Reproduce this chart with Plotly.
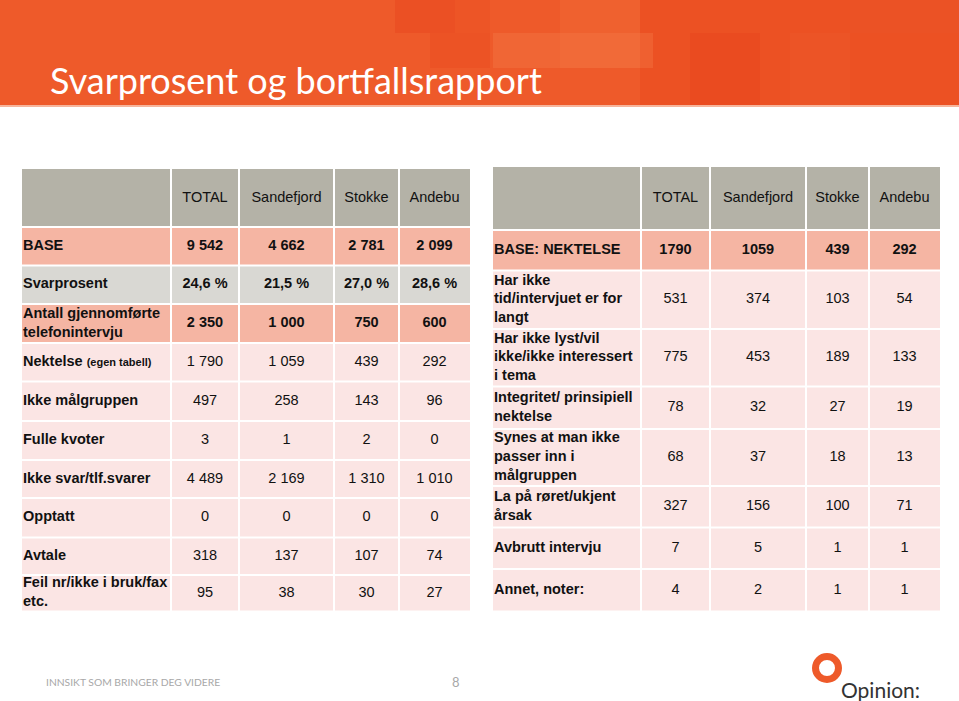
import plotly.graph_objects as go

# ---------------- data ----------------
left_columns = ["TOTAL", "Sandefjord", "Stokke", "Andebu"]
left_labels = [
    "BASE",
    "Svarprosent",
    "Antall gjennomførte<br>telefonintervju",
    "Nektelse <span style='font-size:11px'>(egen tabell)</span>",
    "Ikke målgruppen",
    "Fulle kvoter",
    "Ikke svar/tlf.svarer",
    "Opptatt",
    "Avtale",
    "Feil nr/ikke i bruk/fax<br>etc.",
]
left_total = [9542, 24.6, 2350, 1790, 497, 3, 4489, 0, 318, 95]
left_sandefjord = [4662, 21.5, 1000, 1059, 258, 1, 2169, 0, 137, 38]
left_stokke = [2781, 27.0, 750, 439, 143, 2, 1310, 0, 107, 30]
left_andebu = [2099, 28.6, 600, 292, 96, 0, 1010, 0, 74, 27]

right_columns = ["TOTAL", "Sandefjord", "Stokke", "Andebu"]
right_labels = [
    "BASE: NEKTELSE",
    "Har ikke<br>tid/intervjuet er for<br>langt",
    "Har ikke lyst/vil<br>ikke/ikke interessert<br>i tema",
    "Integritet/ prinsipiell<br>nektelse",
    "Synes at man ikke<br>passer inn i<br>målgruppen",
    "La på røret/ukjent<br>årsak",
    "Avbrutt intervju",
    "Annet, noter:",
]
right_total = [1790, 531, 775, 78, 68, 327, 7, 4]
right_sandefjord = [1059, 374, 453, 32, 37, 156, 5, 2]
right_stokke = [439, 103, 189, 27, 18, 100, 1, 1]
right_andebu = [292, 54, 133, 19, 13, 71, 1, 1]

title_text = "Svarprosent og bortfallsrapport"
footer_text = "INNSIKT SOM BRINGER DEG VIDERE"
page_number = "8"
logo_text = "Opinion:"

# ---------------- layout geometry / styles ----------------
W, H = 959, 701
FONT = "Arial, Liberation Sans, sans-serif"
FS = 14.5
HEADER_GREY = "#b4b2a7"
SALMON = "#f5b5a3"
LIGHT_GREY = "#d9d8d3"
PINK = "#fbe5e4"
ORANGE = "#ee5a2a"

left_xedges = [22, 171, 239, 334, 399, 470]
left_yedges = [169, 227, 265.5, 304, 343, 381.5, 421, 460, 498, 537.5, 575, 611.5]
left_fills = [SALMON, LIGHT_GREY, SALMON] + [PINK] * 7
left_bold_rows = {0, 1, 2}

right_xedges = [493, 641, 710, 806, 869, 940]
right_yedges = [167, 230, 270.5, 329, 386.5, 429, 486, 527.5, 569, 611.5]
right_fills = [SALMON] + [PINK] * 7
right_bold_rows = {0}

GAP = 1.0


def fmt_left(v, row):
    if row == 1:
        return f"{v:.1f} %".replace(".", ",")
    return f"{int(v):,}".replace(",", " ")


def fmt_right(v, row):
    return str(int(v))


fig = go.Figure()
shapes = []
annotations = []

# ---------------- banner ----------------
shapes.append(dict(type="rect", x0=0, x1=W, y0=0, y1=105, fillcolor=ORANGE,
                   line=dict(width=0), layer="below"))
banner_blocks = [
    (640, 959, 0, 105, "#e9461b", 0.45),
    (395, 455, 0, 33, "#e6401a", 0.35),
    (455, 490, 0, 33, "#ea4b1f", 0.3),
    (493, 653, 33, 68, "#f6844f", 0.3),
    (560, 640, 0, 68, "#f47a45", 0.22),
    (430, 490, 33, 68, "#e9461c", 0.3),
    (690, 760, 33, 105, "#e43d16", 0.25),
    (790, 850, 33, 105, "#f06430", 0.2),
    (850, 959, 0, 33, "#ec5a2c", 0.2),
]
for x0, x1, y0, y1, c, op in banner_blocks:
    shapes.append(dict(type="rect", x0=x0, x1=x1, y0=y0, y1=y1, fillcolor=c,
                       opacity=op, line=dict(width=0), layer="below"))
shapes.append(dict(type="rect", x0=0, x1=W, y0=105, y1=107, fillcolor="#f6b59c",
                   line=dict(width=0), layer="below"))

annotations.append(dict(x=48, y=80, xref="x", yref="y", text=title_text,
                        showarrow=False, xanchor="left", yanchor="middle",
                        font=dict(family="Lato, Open Sans, sans-serif", size=36,
                                  color="white")))


# ---------------- tables ----------------
def build_table(xedges, yedges, columns, labels, cols_values, fills, bold_rows, fmt):
    shapes.append(dict(type="rect", x0=xedges[0], x1=xedges[1] - GAP,
                       y0=yedges[0], y1=yedges[1] - GAP, fillcolor=HEADER_GREY,
                       line=dict(width=0), layer="below"))
    for c in range(len(columns)):
        shapes.append(dict(type="rect", x0=xedges[c + 1] + GAP,
                           x1=xedges[c + 2] - (GAP if c < len(columns) - 1 else 0),
                           y0=yedges[0], y1=yedges[1] - GAP, fillcolor=HEADER_GREY,
                           line=dict(width=0), layer="below"))
    for r in range(len(labels)):
        y0 = yedges[r + 1] + GAP
        y1 = yedges[r + 2] - GAP
        for c in range(len(columns) + 1):
            x0 = xedges[c] + (GAP if c > 0 else 0)
            x1 = xedges[c + 1] - (GAP if c < len(columns) else 0)
            shapes.append(dict(type="rect", x0=x0, x1=x1, y0=y0, y1=y1,
                               fillcolor=fills[r], line=dict(width=0), layer="below"))
    row_centers = [(yedges[r + 1] + yedges[r + 2]) / 2 for r in range(len(labels))]
    col_centers = [(xedges[c + 1] + xedges[c + 2]) / 2 for c in range(len(columns))]
    header_center = (yedges[0] + yedges[1]) / 2
    fig.add_trace(go.Scatter(x=col_centers, y=[header_center] * len(columns),
                             text=columns, mode="text", textposition="middle center",
                             textfont=dict(family=FONT, size=FS, color="#111111"),
                             hoverinfo="skip", showlegend=False))
    fig.add_trace(go.Scatter(x=[xedges[0] + 1] * len(labels), y=row_centers,
                             text=[f"<b>{t}</b>" for t in labels], mode="text",
                             textposition="middle right",
                             textfont=dict(family=FONT, size=FS, color="#111111"),
                             hoverinfo="skip", showlegend=False))
    for c, vals in enumerate(cols_values):
        txt = []
        for r, v in enumerate(vals):
            s = fmt(v, r)
            txt.append(f"<b>{s}</b>" if r in bold_rows else s)
        fig.add_trace(go.Scatter(x=[col_centers[c]] * len(vals), y=row_centers,
                                 text=txt, mode="text", textposition="middle center",
                                 textfont=dict(family=FONT, size=FS, color="#111111"),
                                 hoverinfo="skip", showlegend=False))


build_table(left_xedges, left_yedges, left_columns, left_labels,
            [left_total, left_sandefjord, left_stokke, left_andebu],
            left_fills, left_bold_rows, fmt_left)
build_table(right_xedges, right_yedges, right_columns, right_labels,
            [right_total, right_sandefjord, right_stokke, right_andebu],
            right_fills, right_bold_rows, fmt_right)

# ---------------- footer ----------------
annotations.append(dict(x=44, y=682, xref="x", yref="y", text=footer_text,
                        showarrow=False, xanchor="left", yanchor="middle",
                        font=dict(family="Lato, sans-serif", size=10.3, color="#a8a8a8")))
annotations.append(dict(x=456, y=682, xref="x", yref="y", text=page_number,
                        showarrow=False, xanchor="center", yanchor="middle",
                        font=dict(family="Lato, sans-serif", size=13, color="#a8a8a8")))
shapes.append(dict(type="circle", x0=815.5, x1=838.5, y0=656.5, y1=679.5,
                   line=dict(color=ORANGE, width=7), fillcolor="rgba(0,0,0,0)"))
annotations.append(dict(x=839, y=689, xref="x", yref="y", text=logo_text,
                        showarrow=False, xanchor="left", yanchor="middle",
                        font=dict(family="Lato, sans-serif", size=21, color="#333333")))

fig.update_layout(
    width=W, height=H,
    margin=dict(l=0, r=0, t=0, b=0),
    paper_bgcolor="white", plot_bgcolor="white",
    xaxis=dict(range=[0, W], visible=False, fixedrange=True),
    yaxis=dict(range=[H, 0], visible=False, fixedrange=True),
    shapes=shapes, annotations=annotations,
    showlegend=False,
)

fig.write_html("out.html", config={"displayModeBar": False},
               post_script="document.body.style.margin='0px';")
